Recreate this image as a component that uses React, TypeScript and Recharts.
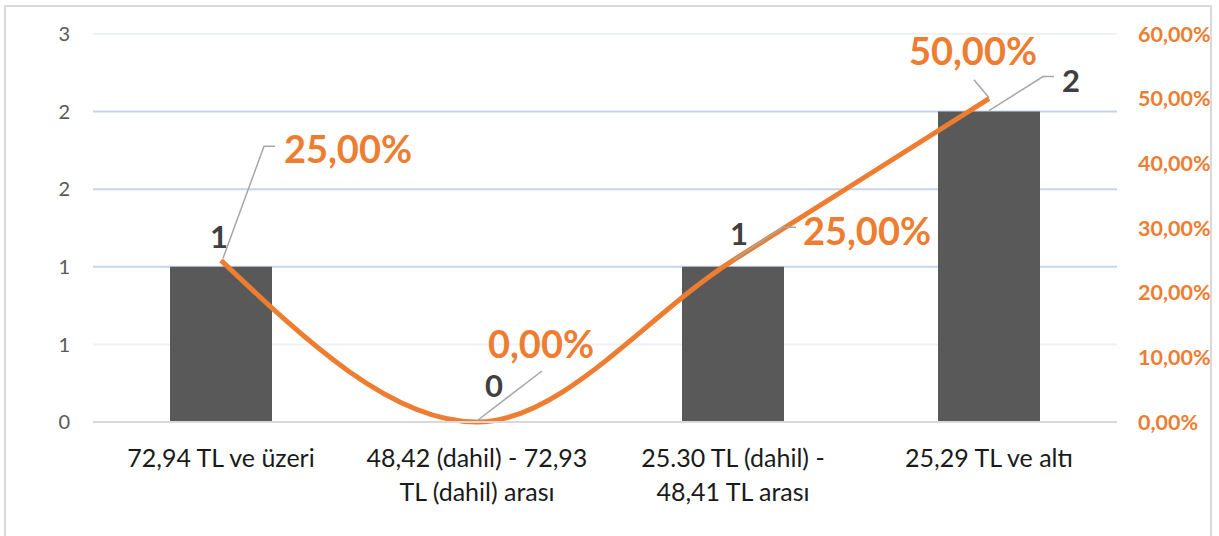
import React from 'react';
import { ComposedChart, Bar, Line, XAxis, YAxis, CartesianGrid, LabelList } from 'recharts';

const categories = [
  '72,94 TL ve üzeri',
  '48,42 (dahil) - 72,93\nTL (dahil) arası',
  '25.30 TL (dahil) -\n48,41 TL arası',
  '25,29 TL ve altı',
];
const counts = [1, 0, 1, 2];
const shares = [0.25, 0, 0.25, 0.5];
const leftTicks = [0, 0.5, 1, 1.5, 2, 2.5];
const rightTicks = [0, 0.1, 0.2, 0.3, 0.4, 0.5, 0.6];
// grid colour per left-axis tick (index order of leftTicks)
const gridColors = ['none', '#eef1f8', '#c7d5ec', '#c7d5ec', '#c7d5ec', '#eef1f8'];

const data = categories.map((c, i) => ({ category: c, count: counts[i], share: shares[i] }));

const FONT = "Lato, 'Open Sans', sans-serif";
const ORANGE = '#ED7D31';
const LEADER = '#a6a6a6';

// label placement (offsets relative to the mark) and leader lines
const barLabelCfg = [
  { dx: -2, dy: -31, leader: null as null | number[][] },
  { dx: 17, dy: -37, leader: null },
  { dx: 6, dy: -34, leader: null },
  { dx: 82, dy: -32, leader: [[0, -1], [54, -35], [65, -35]] },
];
const lineLabelCfg = [
  { dx: 127, dy: -112, leader: [[2, -2], [43, -114], [54, -114]] },
  { dx: 64, dy: -79, leader: [[1, -2], [65, -51]] },
  { dx: 134, dy: -30, leader: [[1, -1], [50, -33], [63, -33]] },
  { dx: -16, dy: -49, leader: [[0, -1], [-15, -19]] },
];

const fmtPct = (v: number) => (v * 100).toFixed(2).replace('.', ',') + '%';

const Leader = ({ px, py, pts }: { px: number; py: number; pts: number[][] | null }) =>
  pts ? (
    <polyline
      points={pts.map((p) => `${px + p[0]},${py + p[1]}`).join(' ')}
      fill="none"
      stroke={LEADER}
      strokeWidth={1.5}
    />
  ) : null;

const BarLabel = (props: any) => {
  const { x, y, index, value } = props;
  const cfg = barLabelCfg[index];
  if (!cfg) return null;
  const px = Number(x);
  const py = Number(y);
  return (
    <g>
      <Leader px={px} py={py} pts={cfg.leader} />
      <text
        x={px + cfg.dx}
        y={py + cfg.dy}
        textAnchor="middle"
        dominantBaseline="central"
        fontFamily={FONT}
        fontWeight={700}
        fontSize={31}
        fill="#404040"
      >
        {value}
      </text>
    </g>
  );
};

const LineLabel = (props: any) => {
  const { x, y, index, value } = props;
  const cfg = lineLabelCfg[index];
  if (!cfg) return null;
  const px = Number(x);
  const py = Number(y);
  return (
    <g>
      <Leader px={px} py={py} pts={cfg.leader} />
      <text
        x={px + cfg.dx}
        y={py + cfg.dy}
        textAnchor="middle"
        dominantBaseline="central"
        fontFamily={FONT}
        fontWeight={700}
        fontSize={38}
        fill={ORANGE}
      >
        {fmtPct(Number(value))}
      </text>
    </g>
  );
};

const CategoryTick = (props: any) => {
  const { x, y, payload } = props;
  const lines = String(payload.value).split('\n');
  return (
    <g>
      {lines.map((l, i) => (
        <text
          key={i}
          x={x}
          y={y + 35 + i * 34}
          textAnchor="middle"
          dominantBaseline="central"
          fontFamily={FONT}
          fontSize={25}
          fill="#1a1a1a"
        >
          {l}
        </text>
      ))}
    </g>
  );
};

const GridLine = (p: any) => (
  <line x1={p.x1} y1={p.y1} x2={p.x2} y2={p.y2} stroke={gridColors[p.index] ?? 'none'} strokeWidth={2} />
);

export default function App() {
  return (
    <div style={{ position: 'absolute', left: 0, top: 0, width: 1219, height: 536, background: '#fff', overflow: 'hidden' }}>
      <div
        style={{
          position: 'absolute',
          left: 4,
          top: 5,
          width: 1208,
          height: 560,
          border: '2px solid #d9d9d9',
          boxSizing: 'border-box',
        }}
      />
      <div style={{ position: 'absolute', left: 0, top: 0 }}>
        <ComposedChart
          width={1219}
          height={536}
          data={data}
          margin={{ top: 34, right: 0, bottom: 54, left: 0 }}
        >
          <CartesianGrid yAxisId="left" vertical={false} horizontal={GridLine} />
          <XAxis
            dataKey="category"
            height={60}
            tickLine={false}
            tickSize={0}
            tickMargin={0}
            axisLine={{ stroke: '#d9d9d9', strokeWidth: 2 }}
            tick={<CategoryTick />}
            interval={0}
          />
          <YAxis
            yAxisId="left"
            orientation="left"
            width={93}
            domain={[0, 2.5]}
            ticks={leftTicks}
            tickFormatter={(v: number) => String(Math.round(v))}
            axisLine={false}
            tickLine={false}
            tickSize={0}
            tickMargin={23}
            tick={{ fontFamily: FONT, fontSize: 20, fill: '#595959' }}
          />
          <YAxis
            yAxisId="right"
            orientation="right"
            width={102}
            domain={[0, 0.6]}
            ticks={rightTicks}
            tickFormatter={fmtPct}
            axisLine={false}
            tickLine={false}
            tickSize={0}
            tickMargin={21}
            tick={{ fontFamily: FONT, fontSize: 21.5, fontWeight: 700, fill: ORANGE }}
          />
          <Bar yAxisId="left" dataKey="count" fill="#595959" barSize={102} isAnimationActive={false} />
          <Line
            yAxisId="left"
            dataKey="count"
            stroke="none"
            dot={false}
            activeDot={false}
            legendType="none"
            isAnimationActive={false}
          >
            <LabelList dataKey="count" content={<BarLabel />} />
          </Line>
          <Line
            yAxisId="right"
            dataKey="share"
            type="monotone"
            stroke={ORANGE}
            strokeWidth={5}
            dot={false}
            isAnimationActive={false}
          >
            <LabelList dataKey="share" content={<LineLabel />} />
          </Line>
        </ComposedChart>
      </div>
    </div>
  );
}
